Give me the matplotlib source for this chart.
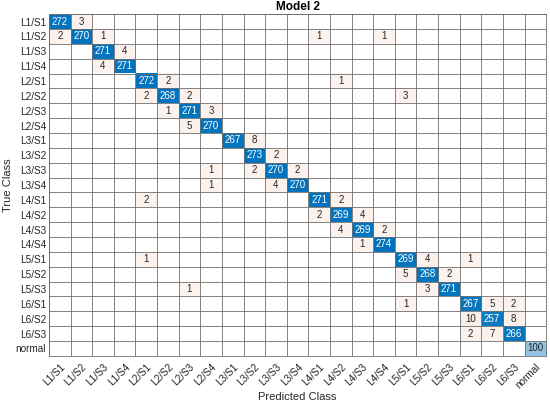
import numpy as np
import matplotlib
matplotlib.use("Agg")
import matplotlib.pyplot as plt

plt.rcParams['font.family'] = ['Liberation Sans', 'DejaVu Sans']

classes = ["L1/S1", "L1/S2", "L1/S3", "L1/S4",
           "L2/S1", "L2/S2", "L2/S3", "L2/S4",
           "L3/S1", "L3/S2", "L3/S3", "L3/S4",
           "L4/S1", "L4/S2", "L4/S3", "L4/S4",
           "L5/S1", "L5/S2", "L5/S3",
           "L6/S1", "L6/S2", "L6/S3", "normal"]

# (true class, predicted class, count) for the non-empty cells
true_cls = ["L1/S1", "L1/S1",
            "L1/S2", "L1/S2", "L1/S2", "L1/S2", "L1/S2",
            "L1/S3", "L1/S3",
            "L1/S4", "L1/S4",
            "L2/S1", "L2/S1", "L2/S1",
            "L2/S2", "L2/S2", "L2/S2", "L2/S2",
            "L2/S3", "L2/S3", "L2/S3",
            "L2/S4", "L2/S4",
            "L3/S1", "L3/S1",
            "L3/S2", "L3/S2",
            "L3/S3", "L3/S3", "L3/S3", "L3/S3",
            "L3/S4", "L3/S4", "L3/S4",
            "L4/S1", "L4/S1", "L4/S1",
            "L4/S2", "L4/S2", "L4/S2",
            "L4/S3", "L4/S3", "L4/S3",
            "L4/S4", "L4/S4",
            "L5/S1", "L5/S1", "L5/S1", "L5/S1",
            "L5/S2", "L5/S2", "L5/S2",
            "L5/S3", "L5/S3", "L5/S3",
            "L6/S1", "L6/S1", "L6/S1", "L6/S1",
            "L6/S2", "L6/S2", "L6/S2",
            "L6/S3", "L6/S3", "L6/S3",
            "normal"]
pred_cls = ["L1/S1", "L1/S2",
            "L1/S1", "L1/S2", "L1/S3", "L4/S1", "L4/S4",
            "L1/S3", "L1/S4",
            "L1/S3", "L1/S4",
            "L2/S1", "L2/S2", "L4/S2",
            "L2/S1", "L2/S2", "L2/S3", "L5/S1",
            "L2/S2", "L2/S3", "L2/S4",
            "L2/S3", "L2/S4",
            "L3/S1", "L3/S2",
            "L3/S2", "L3/S3",
            "L2/S4", "L3/S2", "L3/S3", "L3/S4",
            "L2/S4", "L3/S3", "L3/S4",
            "L2/S1", "L4/S1", "L4/S2",
            "L4/S1", "L4/S2", "L4/S3",
            "L4/S2", "L4/S3", "L4/S4",
            "L4/S3", "L4/S4",
            "L2/S1", "L5/S1", "L5/S2", "L6/S1",
            "L5/S1", "L5/S2", "L5/S3",
            "L2/S3", "L5/S2", "L5/S3",
            "L5/S1", "L6/S1", "L6/S2", "L6/S3",
            "L6/S1", "L6/S2", "L6/S3",
            "L6/S1", "L6/S2", "L6/S3",
            "normal"]
counts = [272, 3,
          2, 270, 1, 1, 1,
          271, 4,
          4, 271,
          272, 2, 1,
          2, 268, 2, 3,
          1, 271, 3,
          5, 270,
          267, 8,
          273, 2,
          1, 2, 270, 2,
          1, 4, 270,
          2, 271, 2,
          2, 269, 4,
          4, 269, 2,
          1, 274,
          1, 269, 4, 1,
          5, 268, 2,
          1, 3, 271,
          1, 267, 5, 2,
          10, 257, 8,
          2, 7, 266,
          100]

n = len(classes)
cm = np.zeros((n, n), dtype=int)
for t, p, c in zip(true_cls, pred_cls, counts):
    cm[classes.index(t), classes.index(p)] = c

diag_col = np.array([0, 114, 189]) / 255
off_col = np.array([217, 83, 25]) / 255
white = np.ones(3)

rgb = np.ones((n, n, 3))
dmax = cm.diagonal().max()
for i in range(n):
    for j in range(n):
        v = cm[i, j]
        if v == 0:
            continue
        if i == j:
            f = (v / dmax) ** 0.85
            rgb[i, j] = white * (1 - f) + diag_col * f
        else:
            f = 0.07 + 0.02 * v / 10
            rgb[i, j] = white * (1 - f) + off_col * f

fig = plt.figure(figsize=(5.5, 4.04), dpi=100)
ax = fig.add_axes([0.089, 0.119, 0.904, 0.846])
ax.imshow(rgb, aspect='auto', interpolation='nearest')

for i in range(n):
    for j in range(n):
        v = cm[i, j]
        if v == 0:
            continue
        lum = rgb[i, j] @ np.array([0.299, 0.587, 0.114])
        tc = 'white' if lum < 0.55 else '#262626'
        ax.text(j, i, str(v), ha='center', va='center', fontsize=7, color=tc)

ax.set_xticks(np.arange(n))
ax.set_yticks(np.arange(n))
ax.set_xticklabels(classes, rotation=45, ha='right', rotation_mode='anchor', fontsize=7.2)
ax.set_yticklabels(classes, fontsize=7.2)
ax.tick_params(axis='y', length=0, pad=2, colors='#262626')
ax.tick_params(axis='x', length=0, pad=4, colors='#262626')
ax.set_xticks(np.arange(-0.5, n, 1), minor=True)
ax.set_yticks(np.arange(-0.5, n, 1), minor=True)
ax.grid(which='minor', color='#6e6e6e', linewidth=0.6)
ax.tick_params(which='minor', length=0)
for s in ax.spines.values():
    s.set_color('#6e6e6e')
    s.set_linewidth(0.6)

ax.set_xlabel("Predicted Class", fontsize=8, color='#262626')
ax.xaxis.set_label_coords(0.5, -0.105)
ax.set_ylabel("True Class", fontsize=8, color='#262626')
ax.yaxis.set_label_coords(-0.072, 0.5)
ax.set_title("Model 2", fontsize=8.5, fontweight='bold', pad=3)

fig.savefig("out.png", dpi=100)
